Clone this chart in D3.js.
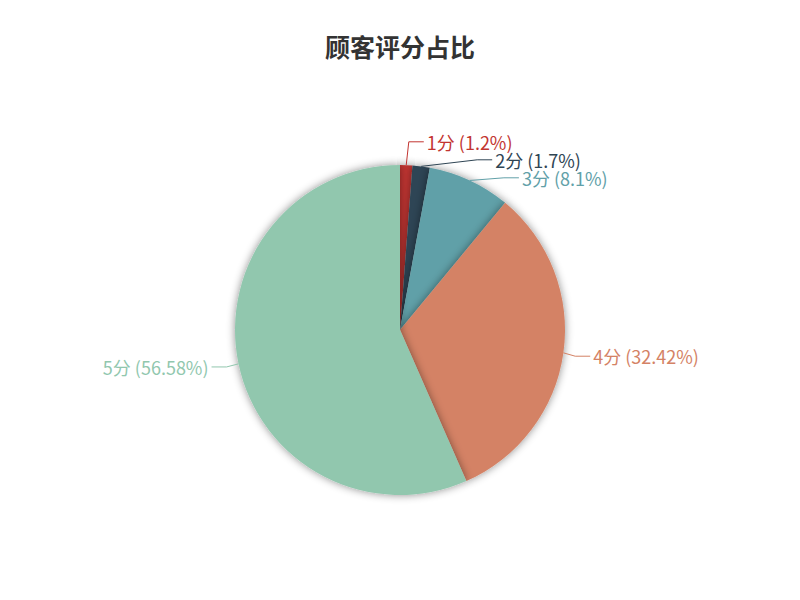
<!DOCTYPE html>
<html>
<head>
<meta charset="utf-8">
<script src="https://cdn.jsdelivr.net/npm/d3@7"></script>
<style>
  body { margin: 0; background: #fff; }
  text { font-family: "Noto Sans CJK SC", sans-serif; }
</style>
</head>
<body>
<svg id="chart" width="800" height="600"></svg>
<script>
// data
var categories = ['1分', '2分', '3分', '4分', '5分'];
var values = [1.2, 1.7, 8.1, 32.42, 56.58];
var palette = ['#c23531', '#2f4554', '#61a0a8', '#d48265', '#91c7ae'];
var title = '顾客评分占比';

var width = 800, height = 600;
var cx = width / 2, cy = height * 0.55;
var r = Math.min(width, height) / 2 * 0.55;
var len = 15, len2 = 15, labelH = 18;

var svg = d3.select('#chart');
var color = d3.scaleOrdinal().domain(categories).range(palette);

// shadow
var defs = svg.append('defs');
var f = defs.append('filter').attr('id', 'shadow')
  .attr('x', '-20%').attr('y', '-20%').attr('width', '140%').attr('height', '140%');
f.append('feDropShadow')
  .attr('dx', 0).attr('dy', 0)
  .attr('stdDeviation', 4)
  .attr('flood-color', '#000')
  .attr('flood-opacity', 0.45);

svg.append('text')
  .attr('x', cx)
  .attr('y', 46)
  .attr('text-anchor', 'middle')
  .attr('dominant-baseline', 'central')
  .style('font-size', '25px')
  .style('font-weight', 'bold')
  .style('fill', '#333')
  .text(title);

var data = categories.map((c, i) => ({ name: c, value: values[i] }));
var total = d3.sum(values);

var pie = d3.pie().value(d => d.value).sort(null);
var arc = d3.arc().innerRadius(0).outerRadius(r);
var arcs = pie(data);

var g = svg.append('g').attr('transform', 'translate(' + cx + ',' + cy + ')');

g.selectAll('.slice')
  .data(arcs)
  .enter()
  .append('path')
  .attr('class', 'slice')
  .attr('d', arc)
  .attr('fill', d => color(d.data.name))
  .attr('filter', 'url(#shadow)');

///////////////////////////////////////////////////////////////
// label layout (echarts-like overlap avoidance)
///////////////////////////////////////////////////////////////
var labels = arcs.map(d => {
  var mid = (d.startAngle + d.endAngle) / 2;
  var dx = Math.sin(mid), dy = -Math.cos(mid);
  var dir = dx < 0 ? -1 : 1;
  var x1 = cx + r * dx, y1 = cy + r * dy;
  var x2 = cx + (r + len) * dx, y2 = cy + (r + len) * dy;
  var x3 = x2 + dir * len2;
  var pct = +(d.data.value / total * 100).toFixed(2);
  return {
    name: d.data.name, text: d.data.name + ' (' + pct + '%)',
    x: x3, y: y2, dir: dir, height: labelH,
    points: [[x1, y1], [x2, y2], [x3, y2]]
  };
});

function adjustSide(list, dir) {
  list.sort((a, b) => a.y - b.y);
  var n = list.length;
  function shiftUp(end, delta) {
    for (var j = end; j >= 0; j--) {
      list[j].y -= delta;
      if (j > 0 && list[j].y > list[j - 1].y + list[j - 1].height) break;
    }
  }
  function shiftDown(start, end, delta) {
    for (var j = start; j < end; j++) {
      list[j].y += delta;
      if (j > start && j + 1 < end && list[j + 1].y > list[j].y + list[j].height) {
        shiftUp(j, delta / 2);
        return;
      }
    }
    shiftUp(end - 1, delta / 2);
  }
  var lastY = 0;
  for (var i = 0; i < n; i++) {
    var delta = list[i].y - lastY;
    if (delta < 0) shiftDown(i, n, -delta);
    lastY = list[i].y + list[i].height;
  }
  var R = r + len + len2;
  function changeX(sub, isDown) {
    var last = isDown ? Number.MAX_VALUE : 0;
    sub.forEach(l => {
      var deltaY = Math.abs(l.y - cy);
      var deltaX = deltaY < r + len
        ? Math.sqrt(R * R - deltaY * deltaY)
        : Math.abs(l.x - cx) + 5;
      if (isDown && deltaX >= last) deltaX = last - 10;
      if (!isDown && deltaX <= last) deltaX = last + 10;
      l.x = cx + deltaX * dir;
      last = deltaX;
    });
  }
  changeX(list.filter(l => l.y < cy), false);
  changeX(list.filter(l => l.y >= cy), true);
}

adjustSide(labels.filter(l => l.dir > 0), 1);
adjustSide(labels.filter(l => l.dir < 0), -1);

labels.forEach(l => {
  var p = l.points;
  var dist = p[1][0] - p[2][0];
  p[2][0] = l.x - 3 * l.dir;
  p[1][1] = p[2][1] = l.y;
  p[1][0] = p[2][0] + dist;
});

var line = d3.line();

svg.selectAll('.label-line')
  .data(labels)
  .enter()
  .append('path')
  .attr('class', 'label-line')
  .attr('d', d => line(d.points))
  .attr('fill', 'none')
  .attr('stroke', d => color(d.name))
  .attr('stroke-width', 1);

svg.selectAll('.label')
  .data(labels)
  .enter()
  .append('text')
  .attr('class', 'label')
  .attr('x', d => d.x)
  .attr('y', d => d.y)
  .attr('text-anchor', d => d.dir > 0 ? 'start' : 'end')
  .attr('dominant-baseline', 'central')
  .style('font-size', '18px')
  .style('fill', d => color(d.name))
  .text(d => d.text);
</script>
</body>
</html>
